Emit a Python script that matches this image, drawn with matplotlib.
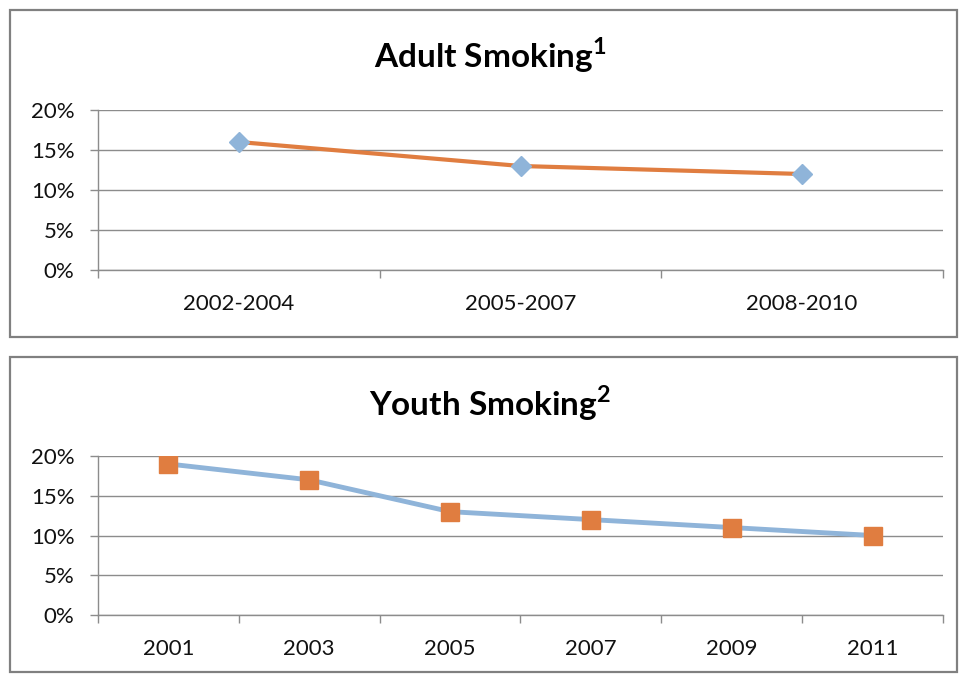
import matplotlib.pyplot as plt
from matplotlib.patches import Rectangle
from matplotlib.ticker import FixedLocator, PercentFormatter

plt.rcParams['font.family'] = ['Lato', 'DejaVu Sans']
plt.rcParams['mathtext.fontset'] = 'custom'
plt.rcParams['mathtext.bf'] = 'Lato:bold'
plt.rcParams['mathtext.rm'] = 'Lato'

# 성인 흡연율 데이터
adult_periods = ['2002-2004', '2005-2007', '2008-2010']
adult_rates = [16, 13, 12]

# 청소년 흡연율 데이터
youth_years = ['2001', '2003', '2005', '2007', '2009', '2011']
youth_rates = [19, 17, 13, 12, 11, 10]

ORANGE = '#E07D40'
BLUE = '#8FB4D9'
GRID = '#8C8C8C'
W, H = 959, 675


def style_axes(ax, n):
    ax.set_xlim(-0.5, n - 0.5)
    ax.set_ylim(0, 20)
    ax.set_yticks([0, 5, 10, 15, 20])
    ax.yaxis.set_major_formatter(PercentFormatter(decimals=0))
    ax.grid(True, axis='y', color=GRID, linewidth=1)
    ax.set_axisbelow(True)
    for side in ['top', 'right']:
        ax.spines[side].set_visible(False)
    for side in ['left', 'bottom']:
        ax.spines[side].set_color(GRID)
        ax.spines[side].set_linewidth(1)
    ax.xaxis.set_minor_locator(FixedLocator([i - 0.5 for i in range(n + 1)]))
    ax.tick_params(axis='x', which='major', length=0, pad=17, labelsize=16, colors='#111111')
    ax.tick_params(axis='x', which='minor', length=6, color=GRID, width=1)
    ax.tick_params(axis='y', length=6, color=GRID, width=1, pad=11, labelsize=16, labelcolor='#111111')


fig = plt.figure(figsize=(W / 100, H / 100), dpi=100)

# 패널 테두리
fig.add_artist(Rectangle((10 / W, 1 - 337 / H), 947 / W, 327 / H, transform=fig.transFigure,
                         fill=False, edgecolor='#808080', linewidth=1.6))
fig.add_artist(Rectangle((10 / W, 1 - 672 / H), 947 / W, 315 / H, transform=fig.transFigure,
                         fill=False, edgecolor='#808080', linewidth=1.6))

# 성인 흡연 차트
ax1 = fig.add_axes([98 / W, 1 - 270 / H, 845 / W, 160 / H])
ax1.plot(range(len(adult_rates)), adult_rates, color=ORANGE, linewidth=3,
         marker='D', markersize=10, markerfacecolor=BLUE, markeredgecolor=BLUE, zorder=3)
ax1.set_xticks(range(len(adult_periods)))
ax1.set_xticklabels(adult_periods)
style_axes(ax1, len(adult_periods))
fig.text(490 / W, 1 - 55 / H, r'Adult Smoking$^{\mathbf{1}}$', ha='center', va='center',
         fontsize=24, fontweight='bold')

# 청소년 흡연 차트
ax2 = fig.add_axes([98 / W, 1 - 615 / H, 845 / W, 159 / H])
ax2.plot(range(len(youth_rates)), youth_rates, color=BLUE, linewidth=3.5,
         marker='s', markersize=13, markerfacecolor=ORANGE, markeredgecolor=ORANGE, zorder=3)
ax2.set_xticks(range(len(youth_years)))
ax2.set_xticklabels(youth_years)
style_axes(ax2, len(youth_years))
fig.text(490 / W, 1 - 403 / H, r'Youth Smoking$^{\mathbf{2}}$', ha='center', va='center',
         fontsize=24, fontweight='bold')

fig.savefig('out.png', dpi=100)
